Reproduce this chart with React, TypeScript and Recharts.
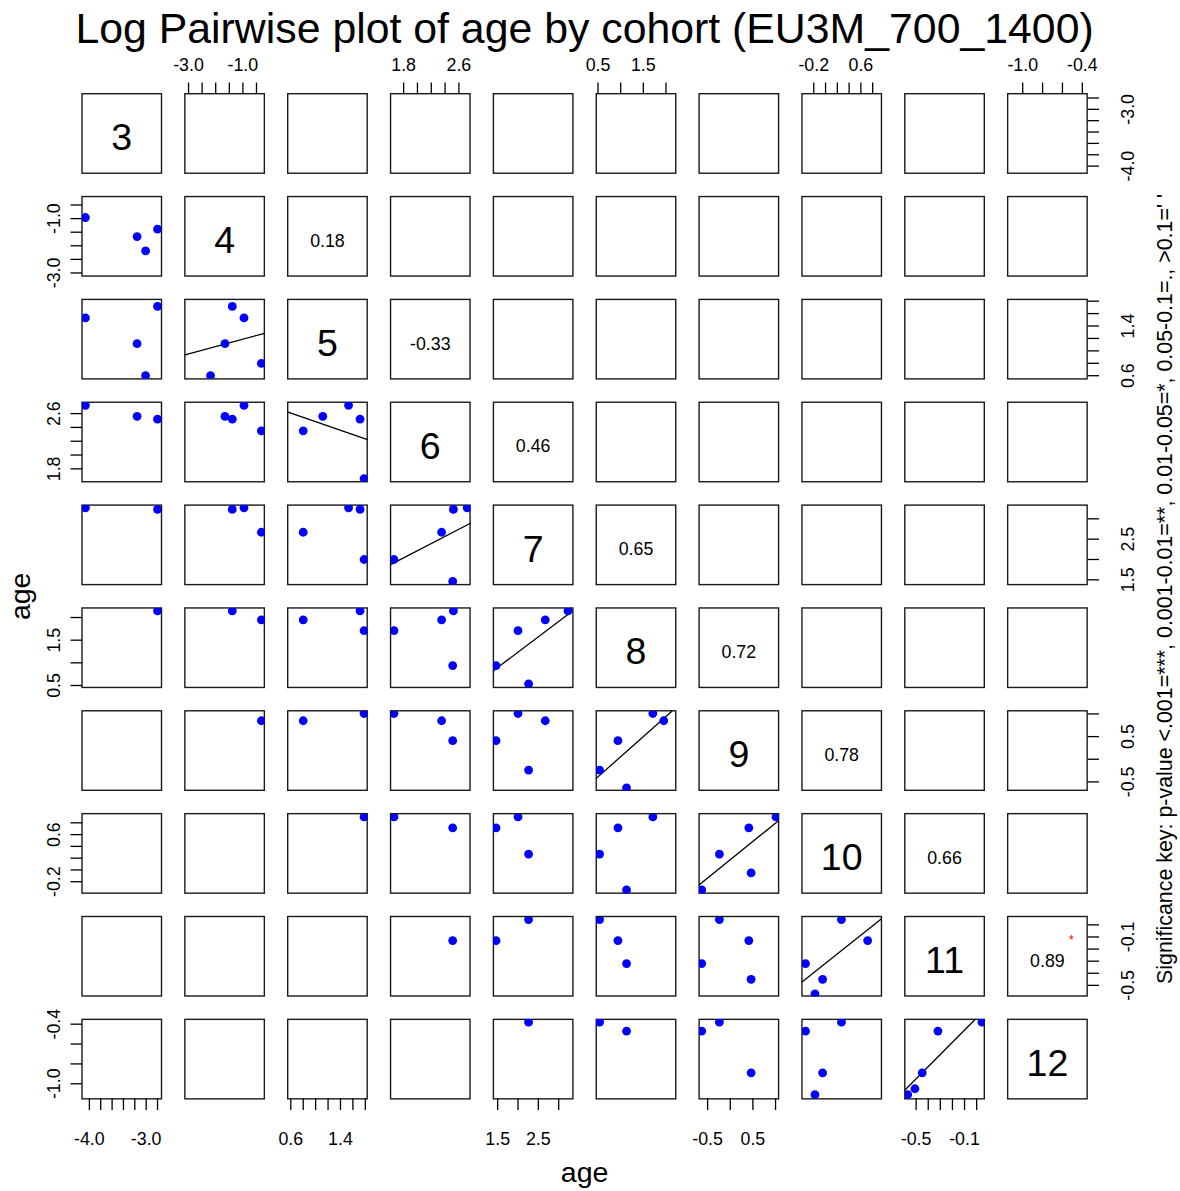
import React from 'react';
import { ScatterChart, Scatter, XAxis, YAxis, ReferenceLine } from 'recharts';

const FONT = '"Liberation Sans", Arial, Helvetica, sans-serif';

const TITLE = 'Log Pairwise plot of age by cohort (EU3M_700_1400)';
const AXIS_TITLE = 'age';
const SIG_KEY = "Significance key: p-value <.001=***, 0.001-0.01=**, 0.01-0.05=*, 0.05-0.1=., >0.1=' '";

// cohorts (diagonal labels)
const COHORTS = ['3', '4', '5', '6', '7', '8', '9', '10', '11', '12'];

// observations (rows of the data), log age per cohort, null = missing
const OBS = ['A', 'B', 'C', 'D', 'E', 'F', 'G', 'H', 'I', 'J', 'K', 'L'];
const AGE_3 = [-4.07, -3.16, -3.01, -2.8, null, null, null, null, null, null, null, null];
const AGE_4 = [-0.96, -1.66, -2.19, -1.39, -0.32, null, null, null, null, null, null, null];
const AGE_5 = [1.53, 1.115, 0.6, 1.715, 0.8, 1.78, null, null, null, null, null, null];
const AGE_6 = [2.72, 2.56, null, 2.52, 2.35, 1.66, 2.51, null, null, null, null, null];
const AGE_7 = [3.27, null, null, 3.23, 2.67, 2.0, 1.46, 2.26, null, null, null, null];
const AGE_8 = [null, null, null, 2.145, 1.95, 1.71, 0.94, 0.535, 1.13, null, null, null];
const AGE_9 = [null, null, null, null, 0.85, 1.01, 0.41, -0.24, -0.63, 0.46, null, null];
const AGE_10 = [null, null, null, null, null, 0.9, 0.715, 0.27, -0.34, -0.05, -0.18, null];
const AGE_11 = [null, null, null, null, null, null, -0.13, 0.044, -0.32, -0.45, -0.57, -0.51];
const AGE_12 = [null, null, null, null, null, null, null, -0.38, -0.47, -0.89, -1.11, -1.05];
const AGES = [AGE_3, AGE_4, AGE_5, AGE_6, AGE_7, AGE_8, AGE_9, AGE_10, AGE_11, AGE_12];

// axis limits per cohort
const AXIS_LO = [-4.13, -3.13, 0.555, 1.617, 1.385, 0.456, -0.69, -0.4, -0.592, -1.148];
const AXIS_HI = [-2.73, -0.205, 1.835, 2.768, 3.34, 2.21, 1.065, 0.95, 0.065, -0.348];

// ticks and labelled ticks per cohort
const TICKS = [
  [-4.0, -3.8, -3.6, -3.4, -3.2, -3.0, -2.8],
  [-3.0, -2.5, -2.0, -1.5, -1.0, -0.5],
  [0.6, 0.8, 1.0, 1.2, 1.4, 1.6, 1.8],
  [1.8, 2.0, 2.2, 2.4, 2.6],
  [1.5, 2.0, 2.5, 3.0],
  [0.5, 1.0, 1.5, 2.0],
  [-0.5, 0, 0.5, 1.0],
  [-0.2, 0, 0.2, 0.4, 0.6, 0.8],
  [-0.5, -0.4, -0.3, -0.2, -0.1, 0.0],
  [-1.0, -0.8, -0.6, -0.4],
];
const TICK_LABELS = [
  [-4.0, -3.0],
  [-3.0, -1.0],
  [0.6, 1.4],
  [1.8, 2.6],
  [1.5, 2.5],
  [0.5, 1.5],
  [-0.5, 0.5],
  [-0.2, 0.6],
  [-0.5, -0.1],
  [-1.0, -0.4],
];

// correlations of consecutive cohorts (4-5, 5-6, ..., 11-12)
const CORR_LABELS = ['0.18', '-0.33', '0.46', '0.65', '0.72', '0.78', '0.66', '0.89'];
const CORR_STARS = ['', '', '', '', '', '', '', '*'];

// geometry
const X0 = 82;
const Y0 = 93.7;
const STEP = 102.85;
const BOX = 79.5;
const PAD = 60;
const TICK_FS = 17.8;

const px = (c: number) => X0 + c * STEP;
const py = (r: number) => Y0 + r * STEP;

function fitLine(pts: { x: number; y: number }[], xl: number, xh: number, yl: number, yh: number) {
  const n = pts.length;
  if (n < 2) return null;
  const mx = pts.reduce((s, p) => s + p.x, 0) / n;
  const my = pts.reduce((s, p) => s + p.y, 0) / n;
  let sxy = 0;
  let sxx = 0;
  pts.forEach((p) => {
    sxy += (p.x - mx) * (p.y - my);
    sxx += (p.x - mx) * (p.x - mx);
  });
  const b = sxy / sxx;
  const a = my - b * mx;
  let x1 = xl;
  let x2 = xh;
  if (Math.abs(b) > 1e-12) {
    const xa = (yl - a) / b;
    const xb = (yh - a) / b;
    x1 = Math.max(xl, Math.min(xa, xb));
    x2 = Math.min(xh, Math.max(xa, xb));
  }
  if (x2 <= x1) return null;
  return [
    { x: x1, y: a + b * x1 },
    { x: x2, y: a + b * x2 },
  ];
}

const Dot = (props: any) => {
  const { cx, cy } = props;
  if (cx == null || cy == null) return <g />;
  return <circle cx={cx} cy={cy} r={4.4} fill="#0000FF" />;
};

function Panel({ row, col }: { row: number; col: number }) {
  const xs = AGES[col];
  const ys = AGES[row];
  const pts =
    row > col
      ? OBS.map((_, k) => ({ x: xs[k] as number, y: ys[k] as number })).filter(
          (p) => p.x != null && p.y != null
        )
      : [];
  const xOri = row === 0 && col % 2 === 1 ? 'top' : row === 9 && col % 2 === 0 ? 'bottom' : null;
  const yOri = col === 0 && row % 2 === 1 ? 'left' : col === 9 && row % 2 === 0 ? 'right' : null;
  const margin = {
    top: xOri === 'top' ? 0 : PAD,
    bottom: xOri === 'bottom' ? 0 : PAD,
    left: yOri === 'left' ? 0 : PAD,
    right: yOri === 'right' ? 0 : PAD,
  };
  const seg = row === col + 1 && col >= 1 ? fitLine(pts, AXIS_LO[col], AXIS_HI[col], AXIS_LO[row], AXIS_HI[row]) : null;

  const xTick = (p: any) => {
    const v = p.payload.value;
    if (!TICK_LABELS[col].includes(v)) return <g />;
    const y = xOri === 'top' ? PAD - 23 : PAD + BOX + 46.2;
    return (
      <text x={p.x} y={y} textAnchor="middle" fontSize={TICK_FS} fontFamily={FONT} fill="#000">
        {Number(v).toFixed(1)}
      </text>
    );
  };
  const yTick = (p: any) => {
    const v = p.payload.value;
    if (!TICK_LABELS[row].includes(v)) return <g />;
    const x = yOri === 'left' ? PAD - 22 : PAD + BOX + 46.2;
    return (
      <text
        transform={`translate(${x},${p.y}) rotate(-90)`}
        textAnchor="middle"
        fontSize={TICK_FS}
        fontFamily={FONT}
        fill="#000"
      >
        {Number(v).toFixed(1)}
      </text>
    );
  };

  const size = BOX + 2 * PAD;
  return (
    <div style={{ position: 'absolute', left: px(col) - PAD, top: py(row) - PAD, width: size, height: size }}>
      <ScatterChart width={size} height={size} margin={margin}>
        <XAxis
          xAxisId={0}
          type="number"
          dataKey="x"
          domain={[AXIS_LO[col], AXIS_HI[col]]}
          allowDataOverflow
          ticks={TICKS[col]}
          interval={0}
          hide={!xOri}
          orientation={xOri === 'top' ? 'top' : 'bottom'}
          height={PAD}
          axisLine={false}
          tickLine={{ stroke: '#000', strokeWidth: 1.3 }}
          tickSize={11.5}
          tick={xTick}
        />
        <YAxis
          yAxisId={0}
          type="number"
          dataKey="y"
          domain={[AXIS_LO[row], AXIS_HI[row]]}
          allowDataOverflow
          ticks={TICKS[row]}
          interval={0}
          hide={!yOri}
          orientation={yOri === 'right' ? 'right' : 'left'}
          width={PAD}
          axisLine={false}
          tickLine={{ stroke: '#000', strokeWidth: 1.3 }}
          tickSize={11.5}
          tick={yTick}
        />
        {pts.length > 0 && (
          <Scatter xAxisId={0} yAxisId={0} data={pts} isAnimationActive={false} shape={Dot} />
        )}
        {seg && (
          <ReferenceLine
            xAxisId={0}
            yAxisId={0}
            segment={seg}
            stroke="#000"
            strokeWidth={1.3}
            ifOverflow="visible"
          />
        )}
      </ScatterChart>
    </div>
  );
}

export default function App() {
  const idx = COHORTS.map((_, i) => i);
  return (
    <div style={{ position: 'absolute', left: 0, top: 0, width: 1180, height: 1191, background: '#fff', fontFamily: FONT }}>
      <svg width={1180} height={1191} style={{ position: 'absolute', left: 0, top: 0 }}>
        {idx.map((r) =>
          idx.map((c) => (
            <rect
              key={`b${r}-${c}`}
              x={px(c)}
              y={py(r)}
              width={BOX}
              height={BOX}
              fill="none"
              stroke="#1a1a1a"
              strokeWidth={1.4}
            />
          ))
        )}
      </svg>
      {idx.map((r) => idx.map((c) => <Panel key={`p${r}-${c}`} row={r} col={c} />))}
      <svg width={1180} height={1191} style={{ position: 'absolute', left: 0, top: 0, pointerEvents: 'none' }}>
        <text x={584.6} y={42.6} textAnchor="middle" fontSize={42.8} fontFamily={FONT} fill="#000">
          {TITLE}
        </text>
        {COHORTS.map((lab, i) => (
          <text
            key={`d${i}`}
            x={px(i) + BOX / 2}
            y={py(i) + BOX / 2 + 3.3 + 0.358 * 37.5}
            textAnchor="middle"
            fontSize={37.5}
            fontFamily={FONT}
            fill="#000"
          >
            {lab}
          </text>
        ))}
        {CORR_LABELS.map((lab, k) => {
          const r = k + 1;
          const c = k + 2;
          return (
            <g key={`c${k}`}>
              <text
                x={px(c) + BOX / 2}
                y={py(r) + BOX / 2 + 4 + 0.358 * TICK_FS}
                textAnchor="middle"
                fontSize={TICK_FS}
                fontFamily={FONT}
                fill="#000"
              >
                {lab}
              </text>
              {CORR_STARS[k] && (
                <text
                  x={px(c) + BOX * 0.8}
                  y={py(r) + BOX * 0.25 + 0.57 * 13}
                  textAnchor="middle"
                  fontSize={13}
                  fontFamily={FONT}
                  fill="#FF0000"
                >
                  {CORR_STARS[k]}
                </text>
              )}
            </g>
          );
        })}
        <text x={584.6} y={1181.7} textAnchor="middle" fontSize={28.5} fontFamily={FONT} fill="#000">
          {AXIS_TITLE}
        </text>
        <text
          transform="translate(30,596.3) rotate(-90)"
          textAnchor="middle"
          fontSize={28.5}
          fontFamily={FONT}
          fill="#000"
        >
          {AXIS_TITLE}
        </text>
        <text
          transform="translate(1172,589) rotate(-90)"
          textAnchor="middle"
          fontSize={21.4}
          fontFamily={FONT}
          fill="#000"
        >
          {SIG_KEY}
        </text>
      </svg>
    </div>
  );
}
